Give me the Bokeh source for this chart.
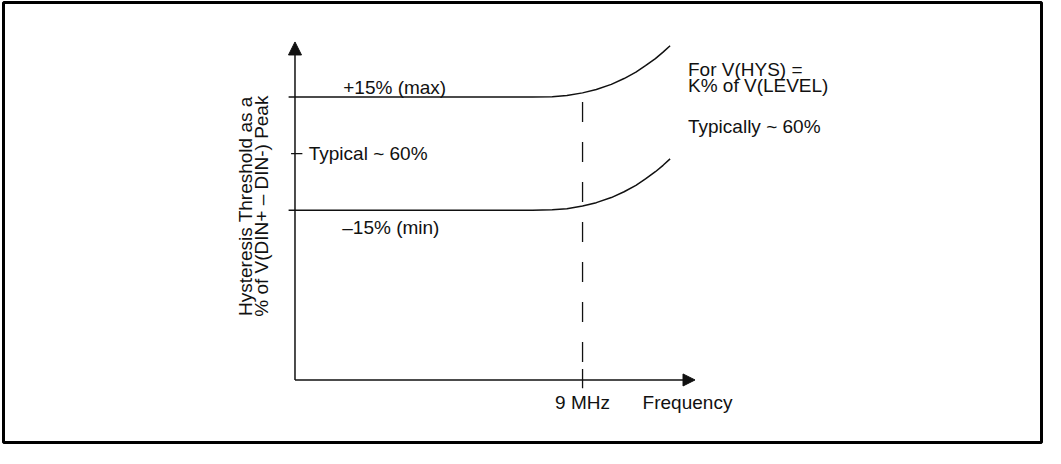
import numpy as np
from bokeh.plotting import figure
from bokeh.models import Range1d, Arrow, NormalHead
from bokeh.core.properties import value
from bokeh.embed import file_html
from bokeh.resources import INLINE

# ---- data ----
freq_mhz = [-0.2, 7.43, 8.05, 8.51, 9.00, 9.43, 9.90, 10.30, 10.67, 10.97, 11.28, 11.52, 11.74]
max_pct = [75.0, 75.0, 75.1, 75.4, 76.1, 77.0, 78.35, 79.9, 81.6, 83.3, 85.2, 86.9, 88.6]
min_pct = [45.0, 45.0, 45.1, 45.4, 46.1, 47.0, 48.35, 49.9, 51.6, 53.3, 55.2, 56.9, 58.6]
typical_pct = 60.0
marker_mhz = 9.0
y_axis_top = 89.6
x_axis_end = 12.52

curve_labels = ["+15% (max)", "Typical ~ 60%", "\u201315% (min)"]
x_tick_label = "9 MHz"
x_axis_title = "Frequency"
y_axis_title = ["Hysteresis Threshold as a", "% of V(DIN+ \u2013 DIN-) Peak"]
note_lines = ["For V(HYS) =", "K% of V(LEVEL)", "Typically ~ 60%"]

FONT = value("Liberation Sans")
FS = "19px"
INK = "#111111"

p = figure(width=1045, height=448, output_backend="svg", toolbar_location=None,
           x_range=Range1d(-9.123, 23.364), y_range=Range1d(-16.58, 100.06),
           x_axis_type=None, y_axis_type=None,
           min_border_left=3, min_border_right=4, min_border_top=2, min_border_bottom=6)
p.grid.visible = False
p.outline_line_color = "black"
p.outline_line_width = 3
p.background_fill_color = "white"
p.border_fill_color = "white"

# axes with arrow heads
p.add_layout(Arrow(end=NormalHead(size=13, fill_color=INK, line_color=INK, line_width=1),
                   x_start=0, y_start=0, x_end=0, y_end=y_axis_top,
                   line_color=INK, line_width=1.5))
p.add_layout(Arrow(end=NormalHead(size=12, fill_color=INK, line_color=INK, line_width=1),
                   x_start=0, y_start=0, x_end=x_axis_end, y_end=0,
                   line_color=INK, line_width=1.5))

# ticks
p.segment(x0=[-0.123], y0=[typical_pct], x1=[0.231], y1=[typical_pct],
          line_color=INK, line_width=1.3)
p.segment(x0=[marker_mhz], y0=[2.89], x1=[marker_mhz], y1=[-2.23],
          line_color=INK, line_width=1.3)

# dashed marker line at 9 MHz
p.segment(x0=[marker_mhz], y0=[73.7], x1=[marker_mhz], y1=[3.07],
          line_color=INK, line_width=1.3, line_dash="20 20")

# curves
p.line(freq_mhz, max_pct, line_color=INK, line_width=1.5)
p.line(freq_mhz, min_pct, line_color=INK, line_width=1.5)

# curve labels
p.text(x=[1.51, 0.43, 1.48], y=[77.55, 60.15, 40.44], text=curve_labels,
       text_font=FONT, text_font_size=FS, text_color=INK,
       text_align="left", text_baseline="middle")

# x tick label and axis title
p.text(x=[marker_mhz], y=[-6.01], text=[x_tick_label], text_font=FONT,
       text_font_size=FS, text_color=INK, text_align="center", text_baseline="middle")
p.text(x=[10.88], y=[-6.01], text=[x_axis_title], text_font=FONT,
       text_font_size=FS, text_color=INK, text_align="left", text_baseline="middle")

# y axis title (two rotated lines)
p.text(x=[-1.557, -1.063], y=[46.07, 46.07], text=y_axis_title, angle=np.pi / 2,
       text_font=FONT, text_font_size=FS, text_color=INK,
       text_align="center", text_baseline="middle")

# note on the right
p.text(x=[12.30, 12.30, 12.30], y=[82.29, 77.94, 67.32], text=note_lines,
       text_font=FONT, text_font_size=FS, text_color=INK,
       text_align="left", text_baseline="middle")

open("out.html", "w").write(file_html(p, INLINE))
